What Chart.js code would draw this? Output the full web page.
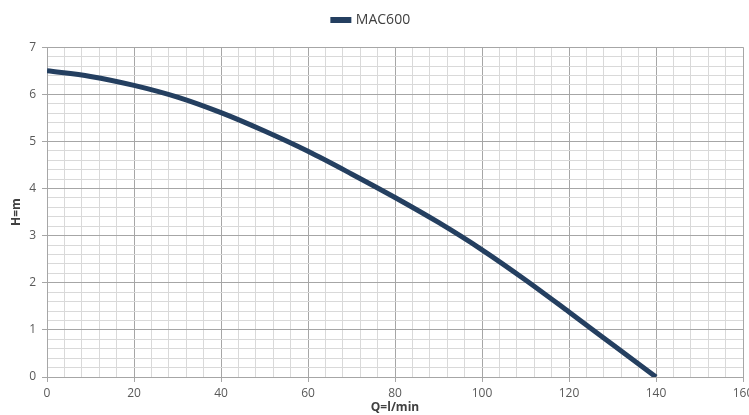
<!DOCTYPE html>
<html>
<head>
<meta charset="utf-8">
<script src="https://cdn.jsdelivr.net/npm/chart.js@4/dist/chart.umd.min.js"></script>
<style>
  html, body { margin: 0; padding: 0; background: #fff; }
  #wrap { width: 749px; height: 415px; }
</style>
</head>
<body>
<div id="wrap"><canvas id="myChart" width="749" height="415"></canvas></div>
<script>
// flow Q (l/min) and head H (m)
const qValues = [0, 10, 20, 30, 40, 50, 60, 70, 80, 90, 100, 110, 120, 130, 140];
const hValues = [6.5, 6.38, 6.19, 5.94, 5.61, 5.22, 4.79, 4.31, 3.81, 3.28, 2.7, 2.06, 1.38, 0.69, 0];
const seriesName = "MAC600";
const xTitle = "Q=l/min";
const yTitle = "H=m";

const lineColor = "#243f60";
const majorGrid = "#a6a6a6";
const minorGrid = "#d9d9d9";
const textColor = "#595959";

const points = qValues.map((q, i) => ({ x: q, y: hValues[i] }));

const isMajor = (v, step) => Math.abs(v / step - Math.round(v / step)) < 1e-6;

Chart.defaults.font.family = "'Open Sans', 'Liberation Sans', sans-serif";
Chart.defaults.color = textColor;

new Chart("myChart", {
  type: "scatter",
  data: {
    datasets: [{
      label: seriesName,
      data: points,
      showLine: true,
      borderColor: lineColor,
      backgroundColor: lineColor,
      borderWidth: 5,
      pointRadius: 0,
      tension: 0.4,
      cubicInterpolationMode: "monotone"
    }]
  },
  options: {
    responsive: false,
    animation: false,
    layout: { padding: { top: 0, right: 6, left: 0, bottom: 0 } },
    plugins: {
      legend: {
        display: true,
        position: "top",
        labels: {
          boxWidth: 16,
          boxHeight: 1,
          padding: 13,
          font: { size: 14 },
          color: "#404040"
        }
      },
      // empty title used only as a gap under the legend
      title: {
        display: true,
        text: "",
        weight: 500,
        font: { size: 1 },
        padding: { top: 9, bottom: 0 }
      },
      tooltip: { enabled: false }
    },
    scales: {
      x: {
        type: "linear",
        min: 0,
        max: 160,
        ticks: {
          stepSize: 4,
          autoSkip: false,
          maxRotation: 0,
          font: { size: 12 },
          padding: 4,
          callback: (v) => isMajor(v, 20) ? String(v) : ""
        },
        grid: {
          color: (ctx) => isMajor(ctx.tick.value, 20) ? majorGrid : minorGrid,
          tickColor: (ctx) => isMajor(ctx.tick.value, 20) ? majorGrid : "rgba(0,0,0,0)",
          tickLength: 5,
          lineWidth: 1
        },
        border: { color: majorGrid },
        title: {
          display: true,
          text: xTitle,
          font: { size: 12, weight: "bold" },
          color: "#404040",
          padding: { top: 0, bottom: 0 }
        },
        afterFit: (scale) => {
          scale.height = 38;
          scale.paddingLeft = 0;
          scale.paddingRight = 0;
        }
      },
      y: {
        min: 0,
        max: 7,
        ticks: {
          stepSize: 0.2,
          autoSkip: false,
          font: { size: 12 },
          padding: 6,
          callback: (v) => isMajor(v, 1) ? String(Math.round(v)) : ""
        },
        grid: {
          color: (ctx) => isMajor(ctx.tick.value, 1) ? majorGrid : minorGrid,
          tickColor: (ctx) => isMajor(ctx.tick.value, 1) ? majorGrid : "rgba(0,0,0,0)",
          tickLength: 5,
          lineWidth: 1
        },
        border: { color: majorGrid },
        title: {
          display: true,
          text: yTitle,
          font: { size: 12, weight: "bold" },
          color: "#404040",
          padding: { top: 9, bottom: 0 }
        },
        afterFit: (scale) => {
          scale.width = 47;
          scale.paddingTop = 0;
          scale.paddingBottom = 0;
        }
      }
    }
  }
});
</script>
</body>
</html>
